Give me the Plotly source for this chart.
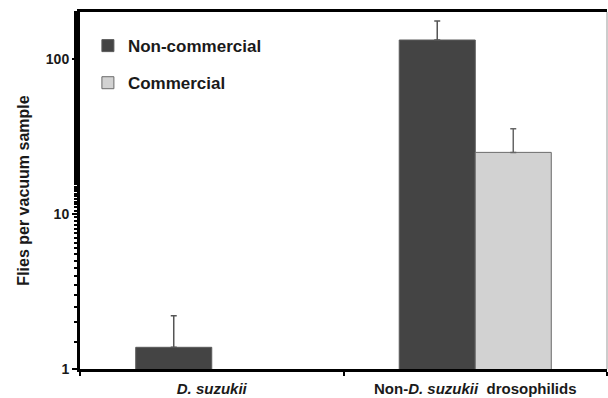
import plotly.graph_objects as go
import math

categories = ["<b><i>D. suzukii</i></b>", "<b>Non-<i>D. suzukii</i>  drosophilids</b>"]
noncommercial = [1.38, 132]
noncommercial_err = [0.82, 43]
commercial = [None, 24.9]
commercial_err = [None, 10.5]
ytick_vals = [1, 10, 100]
ytick_text = ["<b>1</b>", "<b>10</b>", "<b>100</b>"]

fig = go.Figure()
fig.add_trace(go.Bar(
    x=categories, y=noncommercial, name="<b>Non-commercial</b>",
    marker=dict(color="#444444", line=dict(color="#5a5a5a", width=1)),
    error_y=dict(type="data", symmetric=False, array=noncommercial_err,
                 arrayminus=[0, 0], color="#555555", thickness=1.5, width=3),
    legendgroup="a",
))
fig.add_trace(go.Bar(
    x=categories, y=commercial, name="<b>Commercial</b>",
    marker=dict(color="#d2d2d2", line=dict(color="#6a6a6a", width=1)),
    error_y=dict(type="data", symmetric=False, array=commercial_err,
                 arrayminus=[0, 0], color="#666666", thickness=1.5, width=3),
    legendgroup="b",
))

fig.update_layout(
    width=608, height=398,
    margin=dict(l=80, r=1, t=12, b=27),
    paper_bgcolor="white", plot_bgcolor="white",
    barmode="group", bargap=0.423, bargroupgap=0,
    font=dict(family="Liberation Sans, Arial, sans-serif", color="#1a1a1a"),
    showlegend=True,
    legend=dict(x=0.015, y=0.955, xanchor="left", yanchor="top",
                font=dict(size=17, color="#1a1a1a"),
                bgcolor="rgba(0,0,0,0)", traceorder="grouped",
                tracegroupgap=12),
    xaxis=dict(showline=True, linecolor="black", linewidth=3, mirror=True,
               ticks="outside", tickson="boundaries", ticklen=4,
               tickcolor="black", tickwidth=1.5, ticklabelstandoff=4,
               tickfont=dict(size=15, color="#1a1a1a"), showgrid=False),
    yaxis=dict(type="log", range=[0, math.log10(200)],
               showline=True, linecolor="black", linewidth=3,
               tickvals=ytick_vals, ticktext=ytick_text,
               ticks="outside", ticklen=5, tickwidth=2, tickcolor="black",
               minor=dict(ticks="outside", ticklen=3, tickwidth=1.5,
                          tickcolor="black", showgrid=False),
               tickfont=dict(size=14, color="#1a1a1a"), showgrid=False,
               title=dict(text="<b>Flies per vacuum sample</b>",
                          font=dict(size=16, color="#1a1a1a"), standoff=13)),
    shapes=[dict(type="line", xref="paper", yref="paper", x0=1, x1=1,
                 y0=0, y1=1, line=dict(color="#999999", width=1))],
)

fig.write_html("out.html", config={"displayModeBar": False},
               post_script="document.body.style.margin='0px';")
